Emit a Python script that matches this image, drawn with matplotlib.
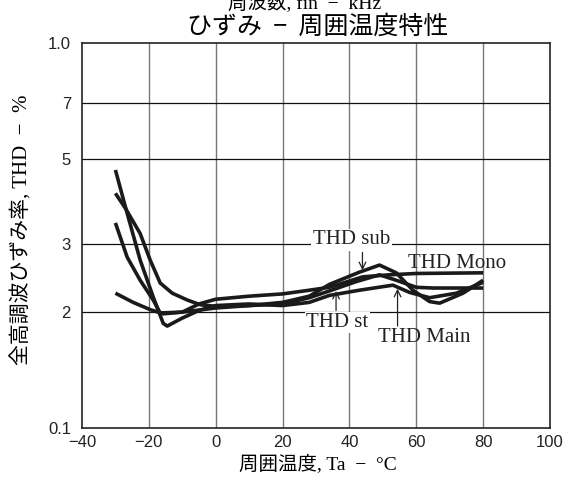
import matplotlib
matplotlib.use("Agg")
from matplotlib import pyplot as plt
from matplotlib.ticker import FixedLocator, NullLocator

# data (Ta in degC, THD in %)
x_main = [-30, -27, -22.6, -18.7, -15.7, -14.5, -10, -5, 0, 10, 20, 28, 34, 43, 53, 58, 64, 72, 80]
y_main = [4.68, 3.75, 2.73, 2.19, 1.87, 1.84, 1.93, 2.02, 2.08, 2.1, 2.08, 2.12, 2.21, 2.28, 2.35, 2.25, 2.18, 2.24, 2.39]

x_sub = [-30, -27, -22.6, -19.6, -16.6, -13, -8.5, -4.6, 0, 10, 20, 28, 34, 43, 49, 54, 59, 64, 67, 74, 80]
y_sub = [4.07, 3.72, 3.2, 2.73, 2.38, 2.24, 2.15, 2.09, 2.07, 2.08, 2.12, 2.2, 2.36, 2.54, 2.65, 2.53, 2.28, 2.13, 2.11, 2.24, 2.42]

x_st = [-30, -26.5, -22.6, -18.7, -16.6, -10, 0, 10, 20, 28, 34, 42, 49, 54, 60, 65, 80]
y_st = [3.41, 2.78, 2.42, 2.15, 1.99, 2.0, 2.05, 2.08, 2.1, 2.18, 2.27, 2.4, 2.5, 2.42, 2.32, 2.31, 2.31]

x_mono = [-30, -24.7, -19.6, -15.7, -10, -5, 0, 10, 20, 28, 34, 44, 52, 60, 80]
y_mono = [2.24, 2.12, 2.03, 1.98, 2.0, 2.1, 2.16, 2.2, 2.23, 2.28, 2.32, 2.47, 2.5, 2.52, 2.53]

xticks = [-40, -20, 0, 20, 40, 60, 80, 100]
xlabels = ["\u221240", "\u221220", "0", "20", "40", "60", "80", "100"]
yticks = [1, 2, 3, 5, 7, 10]
ylabels = ["0.1", "2", "3", "5", "7", "1.0"]

jp = ["Liberation Serif", "Noto Sans CJK JP"]

fig = plt.figure(figsize=(5.67, 4.8), dpi=100)
ax = fig.add_axes([0.1446, 0.1083, 0.8254, 0.8021])

ax.set_yscale("log")
ax.set_xlim(-40, 100)
ax.set_ylim(1, 10)
ax.yaxis.set_major_locator(FixedLocator(yticks))
ax.yaxis.set_minor_locator(NullLocator())
ax.set_yticks(yticks)
ax.set_yticklabels(ylabels)
ax.set_xticks(xticks)
ax.set_xticklabels(xlabels)
for lab in ax.get_xticklabels() + ax.get_yticklabels():
    lab.set_fontfamily("Liberation Sans")
    lab.set_fontsize(12)
    lab.set_color("#222222")
ax.tick_params(length=0)
ax.tick_params(axis="y", pad=8)
ax.tick_params(axis="x", pad=5)

# grid
for xv in xticks[1:-1]:
    ax.axvline(xv, color="#777777", lw=1.0, zorder=1)
for yv in yticks[1:-1]:
    ax.axhline(yv, color="#111111", lw=0.9, zorder=1)
for s in ax.spines.values():
    s.set_linewidth(1.2)
    s.set_color("#222222")

for xs, ys in [(x_main, y_main), (x_sub, y_sub), (x_st, y_st), (x_mono, y_mono)]:
    ax.plot(xs, ys, color="#1a1a1a", lw=2.6, solid_capstyle="butt", zorder=3)

# labels with pointers
box = dict(facecolor="white", edgecolor="none", pad=1)
lbl = dict(fontsize=15, family="Liberation Serif", ha="center", va="center", color="#222222", zorder=5)
arr = dict(arrowstyle="->", color="#222222", lw=0.9, shrinkA=0, shrinkB=0, mutation_scale=12)

ax.text(40.6, 3.08, "THD sub", bbox=box, **lbl)
ax.annotate("", xy=(43.9, 2.57), xytext=(43.9, 2.86), arrowprops=arr, zorder=5)

ax.text(72.1, 2.68, "THD Mono", **lbl)

ax.text(36.4, 1.88, "THD st", bbox=box, **lbl)
ax.annotate("", xy=(36.0, 2.27), xytext=(36.0, 2.02), arrowprops=arr, zorder=5)

ax.text(62.5, 1.72, "THD Main", **lbl)
ax.annotate("", xy=(54.4, 2.30), xytext=(54.4, 1.84), arrowprops=arr, zorder=5)

ax.set_xlabel("周囲温度, Ta  \u2212  °C", family=jp, fontsize=14)
ax.xaxis.set_label_coords(0.504, -0.067)
ax.set_ylabel("全高調波ひずみ率, THD  \u2212  %", family=jp, fontsize=15)
ax.yaxis.set_label_coords(-0.106, 0.514)

fig.text(0.538, 0.993, "周波数, fin  \u2212  kHz", family=jp, fontsize=14, ha="center", va="center")
fig.text(0.56, 0.945, "ひずみ  \u2212  周囲温度特性", family=["Noto Sans CJK JP", "DejaVu Sans"],
         fontsize=18, ha="center", va="center")

fig.savefig("out.png", dpi=100)
